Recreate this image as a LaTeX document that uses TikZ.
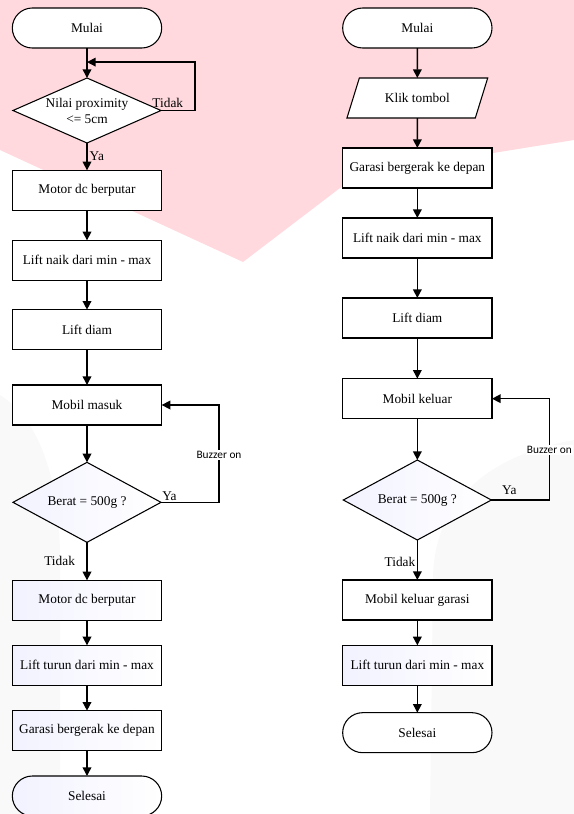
\documentclass[tikz,border=0pt]{standalone}
\usepackage{fontspec}
\setmainfont{Liberation Serif}
\newfontfamily\labelfont{Carlito}
\usetikzlibrary{shapes.geometric, arrows.meta, positioning, calc}
\definecolor{wmpink}{RGB}{255,217,221}
\definecolor{wmgray}{RGB}{249,249,249}

\begin{document}
\begin{tikzpicture}[
    x=0.75pt, y=-0.75pt,
    font=\fontsize{10}{12}\selectfont,
    box/.style={draw, fill=white, minimum width=112pt, minimum height=30pt, align=center, line width=0.8pt, inner sep=2pt, outer sep=0pt},
    process/.style={box},
    tinted/.style={left color=blue!5, right color=white},
    term/.style={box, rounded corners=15pt},
    io/.style={box, trapezium, trapezium left angle=63, trapezium right angle=117, trapezium stretches=true, minimum width=106pt},
    decision/.style={box, diamond, aspect=2.3, inner sep=0pt, minimum width=111pt, minimum height=60pt},
    arrow/.style={-{Triangle[length=6.5pt,width=6.5pt]}, line width=1.1pt},
    labeltext/.style={inner sep=1.5pt},
    buzzer/.style={font=\labelfont\fontsize{8.5}{10}\selectfont, fill=white, inner sep=1pt}
]
    \useasboundingbox (0,0) rectangle (574,814);
    % watermark behind the chart
    \fill[wmpink] (0,0) -- (574,0) -- (574,140) .. controls (450,160) and (380,170) .. (340,188) -- (243,262) -- (0,150) -- cycle;
    \fill[wmgray] (574,440) .. controls (490,455) and (433,500) .. (433,580) -- (430,814) -- (574,814) -- cycle;
    \fill[wmgray] (0,395) .. controls (40,420) and (60,480) .. (60,560) -- (60,814) -- (0,814) -- cycle;

    % left chart
    \node (startL) [term] at (87,28) {Mulai};
    \node (proxL) [decision, minimum height=48.75pt, below=22.5pt of startL] {Nilai proximity\\<= 5cm};
    \node (motorL) [process, below=20.5pt of proxL] {Motor dc berputar};
    \node (naikL) [process, below=22.5pt of motorL] {Lift naik dari min - max};
    \node (diamL) [process, below=22pt of naikL] {Lift diam};
    \node (masukL) [process, below=26.5pt of diamL] {Mobil masuk};
    \node (beratL) [decision, tinted, below=28pt of masukL] {Berat = 500g ?};
    \node (motor2L) [process, tinted, below=28.5pt of beratL] {Motor dc berputar};
    \node (turunL) [process, tinted, below=18.75pt of motor2L] {Lift turun dari min - max};
    \node (garasiL) [process, tinted, below=19pt of turunL] {Garasi bergerak ke depan};
    \node (endL) [term, tinted, below=19pt of garasiL] {Selesai};

    % right chart
    \node (startR) [term, right=135.75pt of startL] {Mulai};
    \node (klikR) [io, below=22.5pt of startR] {Klik tombol};
    \node (garasiR) [process, below=22.5pt of klikR] {Garasi bergerak ke depan};
    \node (naikR) [process, below=22.5pt of garasiR] {Lift naik dari min - max};
    \node (diamR) [process, below=30pt of naikR] {Lift diam};
    \node (keluarR) [process, below=30.5pt of diamR] {Mobil keluar};
    \node (beratR) [decision, tinted, below=31pt of keluarR] {Berat = 500g ?};
    \node (garasi2R) [process, below=30pt of beratR] {Mobil keluar garasi};
    \node (turunR) [process, tinted, below=19pt of garasi2R] {Lift turun dari min - max};
    \node (endR) [term, below=20.5pt of turunR] {Selesai};

    \coordinate (backL) at ($(startL.south)!0.47!(proxL.north)$);

    \draw[arrow] (startL) -- (proxL);
    \draw[arrow] (proxL.east) -- node[above, pos=0.2, labeltext] {Tidak} ++(34,0) |- (backL);
    \draw[arrow] (proxL) -- node[right, labeltext] {Ya} (motorL);
    \draw[arrow] (motorL) -- (naikL);
    \draw[arrow] (naikL) -- (diamL);
    \draw[arrow] (diamL) -- (masukL);
    \draw[arrow] (masukL) -- (beratL);
    \draw[arrow] (beratL.east) -- node[above right, pos=0, inner sep=0.5pt] {Ya} ++(58,0) |- node[pos=0.245, buzzer] {Buzzer on} (masukL.east);
    \draw[arrow] (beratL) -- node[left, xshift=-7pt, labeltext] {Tidak} (motor2L);
    \draw[arrow] (motor2L) -- (turunL);
    \draw[arrow] (turunL) -- (garasiL);
    \draw[arrow] (garasiL) -- (endL);

    \draw[arrow] (startR) -- (klikR);
    \draw[arrow] (klikR) -- (garasiR);
    \draw[arrow] (garasiR) -- (naikR);
    \draw[arrow] (naikR) -- (diamR);
    \draw[arrow] (diamR) -- (keluarR);
    \draw[arrow] (keluarR) -- (beratR);
    \draw[arrow] (beratR.east) -- node[above, pos=0.31, yshift=2pt, labeltext] {Ya} ++(58,0) |- node[pos=0.245, buzzer] {Buzzer on} (keluarR.east);
    \draw[arrow] (beratR) -- node[left, pos=0.55, inner sep=1pt] {Tidak} (garasi2R);
    \draw[arrow] (garasi2R) -- (turunR);
    \draw[arrow] (turunR) -- (endR);
\end{tikzpicture}
\end{document}
